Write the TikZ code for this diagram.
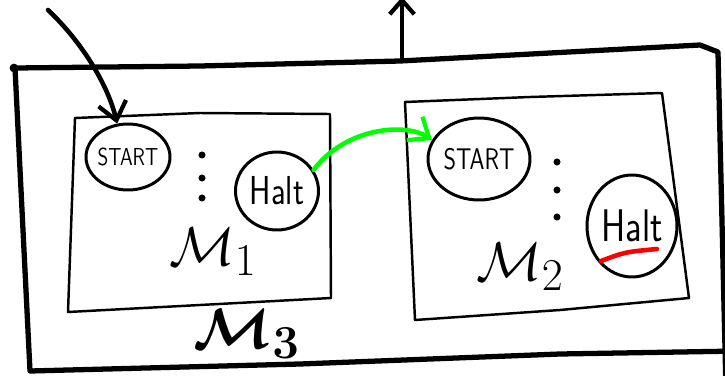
\documentclass[tikz,border=0pt]{standalone}
\usepackage{bm}
\usepackage{graphicx}
\usetikzlibrary{shapes.geometric,arrows.meta}

% narrow handwriting-like lettering for the states
\newcommand{\narrowtext}[1]{\scalebox{0.8}[1]{#1}}

\tikzset{
    state/.style={draw, ellipse, line width=1.7pt, inner sep=-2pt, font=\sffamily},
    machine/.style={draw, line width=1.4pt, line join=round},
    link/.style={line width=2.6pt, line cap=round, -{Straight Barb[length=10pt,width=16pt,line width=2.4pt]}},
}

\begin{document}
\begin{tikzpicture}[x=0.02cm, y=-0.02cm]
    \useasboundingbox (0,0) rectangle (725,376);

    % Outer machine M3 (runs off the right and bottom)
    \draw[line width=3pt, line join=round, line cap=round]
        (740,351) -- (560,354) -- (300,364) -- (30,371) -- (22,210) -- (15,68)
        -- (200,66) -- (400,61) -- (700,45) -- (718,52) -- (726,390);
    \fill (14,68) circle[radius=2.5pt];

    % Output leaves through the top
    \coordinate (out) at (402,61);
    \coordinate (exit) at (402,-3);
    \draw[line width=2.6pt, -{Straight Barb[length=8pt,width=14pt,line width=2.4pt]}] (out) -- (exit);

    % Inner machine M1
    \draw[machine] (75,118) -- (200,113) -- (330,114) -- (331,298) -- (200,305) -- (68,312) -- cycle;
    \node[state, minimum width=1.68cm, minimum height=1.32cm, font=\sffamily\fontsize{14}{14}\selectfont]
        (start1) at (128,157) {\narrowtext{START}};
    \node[state, minimum width=1.66cm, minimum height=1.56cm, font=\sffamily\fontsize{23}{23}\selectfont]
        (halt1) at (277,191) {\narrowtext{Halt}};
    \foreach \y in {155,178,198}
        \fill (202,\y) circle[radius=2pt];
    \node[font=\Huge, scale=1.25] (m1) at (213,252) {$\mathcal{M}_1$};

    % Inner machine M2
    \draw[machine] (405,102) -- (530,97) -- (662,93) -- (689,298) -- (560,310) -- (415,320) -- cycle;
    \node[state, minimum width=2.04cm, minimum height=1.64cm, font=\sffamily\fontsize{17}{17}\selectfont]
        (start2) at (479,159) {\narrowtext{START}};
    \node[state, minimum width=1.8cm, minimum height=2.04cm, font=\sffamily\fontsize{26}{26}\selectfont]
        (halt2) at (632,226) {\narrowtext{Halt}};
    \foreach \y in {162,190,217}
        \fill (557,\y) circle[radius=2pt];
    \node[font=\Huge, scale=1.25] (m2) at (520,267) {$\mathcal{M}_2$};
    \draw[red, line width=2.6pt, line cap=round] (601,261) .. controls (625,252) .. (657,249);

    % Label of the outer machine
    \node[font=\Huge, scale=1.3] (m3) at (247,334) {$\bm{\mathcal{M}}_{\bm{3}}$};

    % Entry into M1 and hand-over from M1 to M2
    \coordinate (in) at (48,10);
    \draw[link] (in) .. controls (82,42) and (108,85) .. (start1.108);
    \draw[link, green] (halt1.30) .. controls (345,128) and (405,122) .. (start2.158);
\end{tikzpicture}
\end{document}
